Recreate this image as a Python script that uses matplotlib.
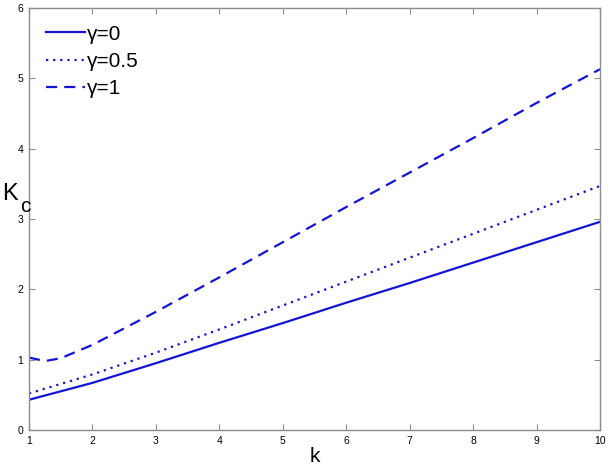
import numpy as np
import matplotlib.pyplot as plt

plt.rcParams['font.family'] = ['Liberation Sans', 'DejaVu Sans']

# values
k = [1, 2, 3, 4, 5, 6, 7, 8, 9, 10]
kc_g0 = [0.43, 0.67, 0.95, 1.24, 1.52, 1.81, 2.09, 2.38, 2.67, 2.96]
kc_g05 = [0.52, 0.79, 1.10, 1.43, 1.77, 2.11, 2.45, 2.79, 3.13, 3.47]
k_g1 = [1, 1.25, 1.5, 2, 3, 4, 5, 6, 7, 8, 9, 10]
kc_g1 = [1.03, 0.98, 1.02, 1.21, 1.68, 2.17, 2.67, 3.17, 3.66, 4.15, 4.65, 5.13]
labels = ['γ=0', 'γ=0.5', 'γ=1']

blue = '#1414d4'
gray = '#8c8c8c'

fig = plt.figure(figsize=(6.09, 4.68), dpi=100)
ax = fig.add_axes([0.0476, 0.0812, 0.9376, 0.9017])

ax.plot(k, kc_g0, color=blue, lw=1.6, label=labels[0])
ax.plot(k, kc_g05, color=blue, lw=1.6, ls=(0, (1, 2.2)), label=labels[1])
ax.plot(k_g1, kc_g1, color=blue, lw=1.6, ls=(0, (5, 3.2)), label=labels[2])

ax.set_xlim(1, 10)
ax.set_ylim(0, 6)
ax.set_xticks(range(1, 11))
ax.set_yticks(range(0, 7))
ax.tick_params(direction='in', top=True, right=True, length=4, width=0.8,
               color=gray, labelsize=7.5, pad=4)
for spot in ['top', 'right', 'bottom', 'left']:
    ax.spines[spot].set_color(gray)
    ax.spines[spot].set_linewidth(1.0)

ax.set_xlabel('k', fontsize=15, labelpad=1)
# y label drawn by hand: big K with a subscript c next to the axis
fig.text(0.003, 0.585, 'K', fontsize=17, ha='left', va='center')
fig.text(0.033, 0.558, 'c', fontsize=15, ha='left', va='center')

ax.legend(loc='upper left', frameon=False, fontsize=15, handlelength=1.9,
          handletextpad=0.1, labelspacing=0.4, borderaxespad=0.4,
          bbox_to_anchor=(0.0, 1.0))

fig.savefig('out.png', dpi=100)
